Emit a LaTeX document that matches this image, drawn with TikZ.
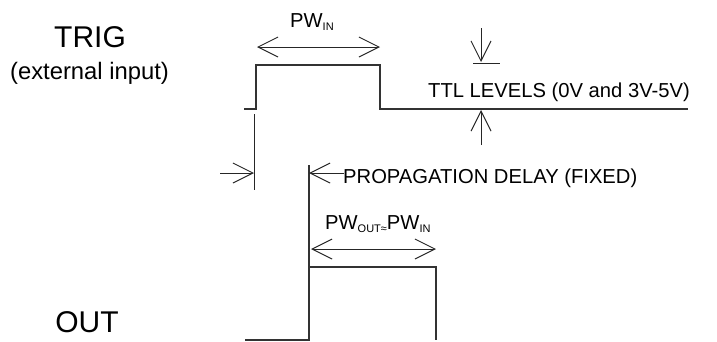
\documentclass[tikz,border=0pt]{standalone}
\usepackage{fontspec}
\setmainfont{Liberation Sans}
\usetikzlibrary{arrows.meta}
\newcommand{\sbs}[1]{\raisebox{-3pt}{\fontsize{11}{13}\selectfont #1}}
\begin{document}
\begin{tikzpicture}[x=1pt,y=-1pt,
  sig/.style={line width=1.3pt, draw=black!80, line join=miter},
  thin/.style={line width=1pt, draw=black!85},
  dim/.style={thin, {Straight Barb[length=20pt,width=20pt,line width=1pt]}-{Straight Barb[length=20pt,width=20pt,line width=1pt]}},
  onearr/.style={thin, -{Straight Barb[length=20pt,width=20pt,line width=1pt]}},
  lbl/.style={inner sep=0pt, font=\fontsize{20.2}{24}\selectfont, anchor=base west},
  big/.style={inner sep=0pt, font=\fontsize{30}{34}\selectfont, anchor=base},
  mid/.style={inner sep=0pt, font=\fontsize{23.8}{27}\selectfont, anchor=base}]
\useasboundingbox (0,0) rectangle (717,341);
% signal corner coordinates
\coordinate (tA) at (244,109);
\coordinate (tB) at (256,109);
\coordinate (tC) at (256,65);
\coordinate (tD) at (380,65);
\coordinate (tE) at (380,109);
\coordinate (tF) at (688,109);
\coordinate (oA) at (245,340);
\coordinate (oB) at (309,340);
\coordinate (oT) at (309,165);
\coordinate (oC) at (309,267);
\coordinate (oD) at (436,267);
\coordinate (oE) at (436,340);
% TRIG signal
\draw[sig] (tA) -- (tB) -- (tC) -- (tD) -- (tE) -- (tF);
% OUT signal
\draw[sig] (oA) -- (oB) -- (oT);
\draw[sig] (oC) -- (oD) -- (oE);
% trigger marker line
\coordinate (m1) at (254,114);
\coordinate (m2) at (254,190);
\draw[thin] (m1) -- (m2);
% propagation delay arrows
\coordinate (pa) at (220,173);
\coordinate (pb) at (254,173);
\coordinate (pc) at (344,173);
\coordinate (pd) at (309,173);
\draw[onearr] (pa) -- (pb);
\draw[onearr] (pc) -- (pd);
% PW_IN dimension
\coordinate (w1) at (257,47);
\coordinate (w2) at (380,47);
\draw[dim] (w1) -- (w2);
% PW_OUT dimension
\coordinate (v1) at (311,249);
\coordinate (v2) at (436,249);
\draw[dim] (v1) -- (v2);
% TTL level arrows
\coordinate (s1) at (481,28);
\coordinate (s2) at (481,62);
\coordinate (b1) at (473,63);
\coordinate (b2) at (500,63);
\coordinate (u1) at (481,145);
\coordinate (u2) at (481,110);
\draw[onearr] (s1) -- (s2);
\draw[thin] (b1) -- (b2);
\draw[onearr] (u1) -- (u2);
% texts
\node[big] (trig) at (90,47) {TRIG};
\node[mid] (ext) at (89.5,79) {(external input)};
\node[big] (out) at (87,332) {OUT};
\node[lbl] (pwin) at (290,27) {PW\sbs{IN}};
\node[lbl] (pwout) at (325,229) {PW\sbs{OUT≈}PW\sbs{IN}};
\node[lbl] (ttl) at (428,97) {TTL LEVELS (0V and 3V-5V)};
\node[lbl] (prop) at (343,183) {PROPAGATION DELAY (FIXED)};
\end{tikzpicture}
\end{document}
